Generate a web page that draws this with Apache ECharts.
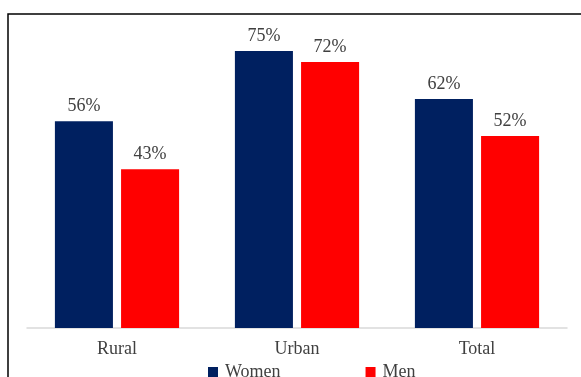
<!DOCTYPE html>
<html><head><meta charset="utf-8">
<script src="https://cdn.jsdelivr.net/npm/echarts@6/dist/echarts.min.js"></script>
<style>html,body{margin:0;padding:0;background:#fff}#c{width:581px;height:377px}</style>
</head><body><div id="c"></div>
<script>
const categories = ['Rural', 'Urban', 'Total'];
const women = [56, 75, 62];
const men = [43, 72, 52];
const seriesNames = ['Women', 'Men'];
const font = '"Liberation Serif", "DejaVu Serif", serif';
const chart = echarts.init(document.getElementById('c'), null, {renderer: 'canvas'});
const labelCfg = {show: true, position: 'top', distance: 6, formatter: '{c}%', color: '#404040', fontFamily: font, fontSize: 18};
chart.setOption({
  animation: false,
  grid: {left: 27, right: 14, top: 14, bottom: 49},
  graphic: [{type: 'rect', shape: {x: 8, y: 14, width: 700, height: 500}, style: {fill: 'none', stroke: '#000', lineWidth: 1.5}, silent: true, z: 100}],
  legend: {data: seriesNames, left: 203, top: 358, itemWidth: 10, itemHeight: 10, itemGap: 85, icon: 'rect',
    textStyle: {fontFamily: font, fontSize: 18, color: '#404040', padding: [0, 0, 0, 2]}},
  xAxis: {type: 'category', data: categories,
    axisLine: {lineStyle: {color: '#d9d9d9', width: 1.5}}, axisTick: {show: false},
    axisLabel: {margin: 12, fontFamily: font, fontSize: 18, color: '#404040'}},
  yAxis: {type: 'value', min: 0, max: 85, show: false, splitLine: {show: false}},
  series: [
    {name: seriesNames[0], type: 'bar', data: women, itemStyle: {color: '#002060'}, barGap: '14%', barCategoryGap: '31%', label: labelCfg},
    {name: seriesNames[1], type: 'bar', data: men, itemStyle: {color: '#FF0000'}, label: labelCfg}
  ]
});
</script></body></html>
